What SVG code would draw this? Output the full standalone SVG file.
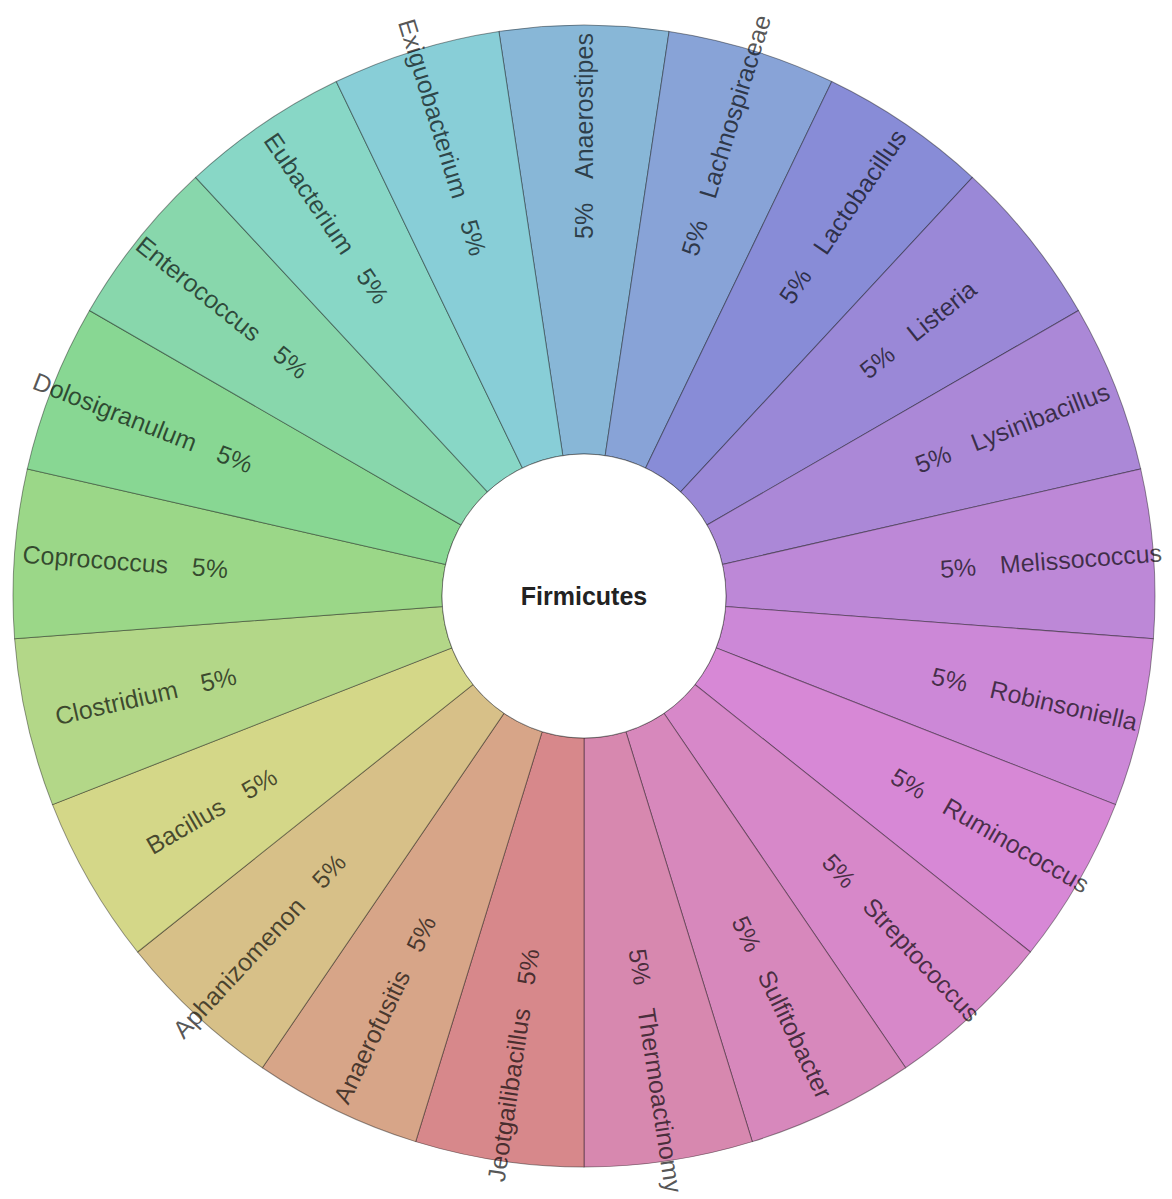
<svg xmlns="http://www.w3.org/2000/svg" xmlns:xlink="http://www.w3.org/1999/xlink" width="1172" height="1199" viewBox="0 0 1172 1199">
<style>
.w{stroke:#000;stroke-opacity:0.4;stroke-width:1}
.l{font-family:"Liberation Sans",Arial,sans-serif;font-size:25px;fill:#000;fill-opacity:0.66}
.r{text-anchor:end}
.c{font-family:"Liberation Sans",Arial,sans-serif;font-size:25px;font-weight:bold;fill:#222;text-anchor:middle}
</style>
<defs>
<path id="wedge" class="w" d="M -85.10,-564.62 A 571 571 0 0 1 85.10,-564.62 L 21.16,-140.41 A 142 142 0 0 0 -21.16,-140.41 Z"/>
</defs>
<rect width="1172" height="1199" fill="#fff"/>
<g id="chart" transform="translate(584,596)">
<g id="node-Anaerostipes"><use href="#wedge" transform="rotate(0)" fill="hsl(205,50%,69%)"/><g transform="rotate(-90)"><text class="l" x="357" dy="0.35em">5%</text><text class="l" x="417" dy="0.35em">Anaerostipes</text></g></g>
<g id="node-Lachnospiraceae"><use href="#wedge" transform="rotate(17.1429)" fill="hsl(220,50%,69%)"/><g transform="rotate(-72.857)"><text class="l" x="357" dy="0.35em">5%</text><text class="l" x="417" dy="0.35em">Lachnospiraceae</text></g></g>
<g id="node-Lactobacillus"><use href="#wedge" transform="rotate(34.2857)" fill="hsl(237,50%,69%)"/><g transform="rotate(-55.714)"><text class="l" x="357" dy="0.35em">5%</text><text class="l" x="417" dy="0.35em">Lactobacillus</text></g></g>
<g id="node-Listeria"><use href="#wedge" transform="rotate(51.4286)" fill="hsl(253,50%,69%)"/><g transform="rotate(-38.571)"><text class="l" x="357" dy="0.35em">5%</text><text class="l" x="417" dy="0.35em">Listeria</text></g></g>
<g id="node-Lysinibacillus"><use href="#wedge" transform="rotate(68.5714)" fill="hsl(266,50%,69%)"/><g transform="rotate(-21.429)"><text class="l" x="357" dy="0.35em">5%</text><text class="l" x="417" dy="0.35em">Lysinibacillus</text></g></g>
<g id="node-Melissococcus"><use href="#wedge" transform="rotate(85.7143)" fill="hsl(280,50%,69%)"/><g transform="rotate(-4.286)"><text class="l" x="357" dy="0.35em">5%</text><text class="l" x="417" dy="0.35em">Melissococcus</text></g></g>
<g id="node-Robinsoniella"><use href="#wedge" transform="rotate(102.857)" fill="hsl(291,50%,69%)"/><g transform="rotate(12.857)"><text class="l" x="357" dy="0.35em">5%</text><text class="l" x="417" dy="0.35em">Robinsoniella</text></g></g>
<g id="node-Ruminococcus"><use href="#wedge" transform="rotate(120)" fill="hsl(301,50%,69%)"/><g transform="rotate(30)"><text class="l" x="357" dy="0.35em">5%</text><text class="l" x="417" dy="0.35em">Ruminococcus</text></g></g>
<g id="node-Streptococcus"><use href="#wedge" transform="rotate(137.143)" fill="hsl(311,50%,69%)"/><g transform="rotate(47.143)"><text class="l" x="357" dy="0.35em">5%</text><text class="l" x="417" dy="0.35em">Streptococcus</text></g></g>
<g id="node-Sulfitobacter"><use href="#wedge" transform="rotate(154.286)" fill="hsl(321,50%,69%)"/><g transform="rotate(64.286)"><text class="l" x="357" dy="0.35em">5%</text><text class="l" x="417" dy="0.35em">Sulfitobacter</text></g></g>
<g id="node-Thermoactinomy"><use href="#wedge" transform="rotate(171.429)" fill="hsl(331,50%,69%)"/><g transform="rotate(81.429)"><text class="l" x="357" dy="0.35em">5%</text><text class="l" x="417" dy="0.35em">Thermoactinomy</text></g></g>
<g id="node-Jeotgailibacillus"><use href="#wedge" transform="rotate(188.571)" fill="hsl(358,50%,69%)"/><g transform="rotate(-81.429)"><text class="l r" x="-357" dy="0.35em">5%</text><text class="l r" x="-417" dy="0.35em">Jeotgailibacillus</text></g></g>
<g id="node-Anaerofusitis"><use href="#wedge" transform="rotate(205.714)" fill="hsl(22,50%,69%)"/><g transform="rotate(-64.286)"><text class="l r" x="-357" dy="0.35em">5%</text><text class="l r" x="-417" dy="0.35em">Anaerofusitis</text></g></g>
<g id="node-Aphanizomenon"><use href="#wedge" transform="rotate(222.857)" fill="hsl(42,50%,69%)"/><g transform="rotate(-47.143)"><text class="l r" x="-357" dy="0.35em">5%</text><text class="l r" x="-417" dy="0.35em">Aphanizomenon</text></g></g>
<g id="node-Bacillus"><use href="#wedge" transform="rotate(240)" fill="hsl(63,50%,69%)"/><g transform="rotate(-30)"><text class="l r" x="-357" dy="0.35em">5%</text><text class="l r" x="-417" dy="0.35em">Bacillus</text></g></g>
<g id="node-Clostridium"><use href="#wedge" transform="rotate(257.143)" fill="hsl(88,50%,69%)"/><g transform="rotate(-12.857)"><text class="l r" x="-357" dy="0.35em">5%</text><text class="l r" x="-417" dy="0.35em">Clostridium</text></g></g>
<g id="node-Coprococcus"><use href="#wedge" transform="rotate(274.286)" fill="hsl(106,50%,69%)"/><g transform="rotate(4.286)"><text class="l r" x="-357" dy="0.35em">5%</text><text class="l r" x="-417" dy="0.35em">Coprococcus</text></g></g>
<g id="node-Dolosigranulum"><use href="#wedge" transform="rotate(291.429)" fill="hsl(128,50%,69%)"/><g transform="rotate(21.429)"><text class="l r" x="-357" dy="0.35em">5%</text><text class="l r" x="-417" dy="0.35em">Dolosigranulum</text></g></g>
<g id="node-Enterococcus"><use href="#wedge" transform="rotate(308.571)" fill="hsl(147,50%,69%)"/><g transform="rotate(38.571)"><text class="l r" x="-357" dy="0.35em">5%</text><text class="l r" x="-417" dy="0.35em">Enterococcus</text></g></g>
<g id="node-Eubacterium"><use href="#wedge" transform="rotate(325.714)" fill="hsl(167,50%,69%)"/><g transform="rotate(55.714)"><text class="l r" x="-357" dy="0.35em">5%</text><text class="l r" x="-417" dy="0.35em">Eubacterium</text></g></g>
<g id="node-Exiguobacterium"><use href="#wedge" transform="rotate(342.857)" fill="hsl(187,50%,69%)"/><g transform="rotate(72.857)"><text class="l r" x="-357" dy="0.35em">5%</text><text class="l r" x="-417" dy="0.35em">Exiguobacterium</text></g></g>
<g id="node-Firmicutes"><circle r="142" fill="#fff" class="w"/><text class="c" y="0" dy="0.35em">Firmicutes</text></g>
</g>
</svg>
